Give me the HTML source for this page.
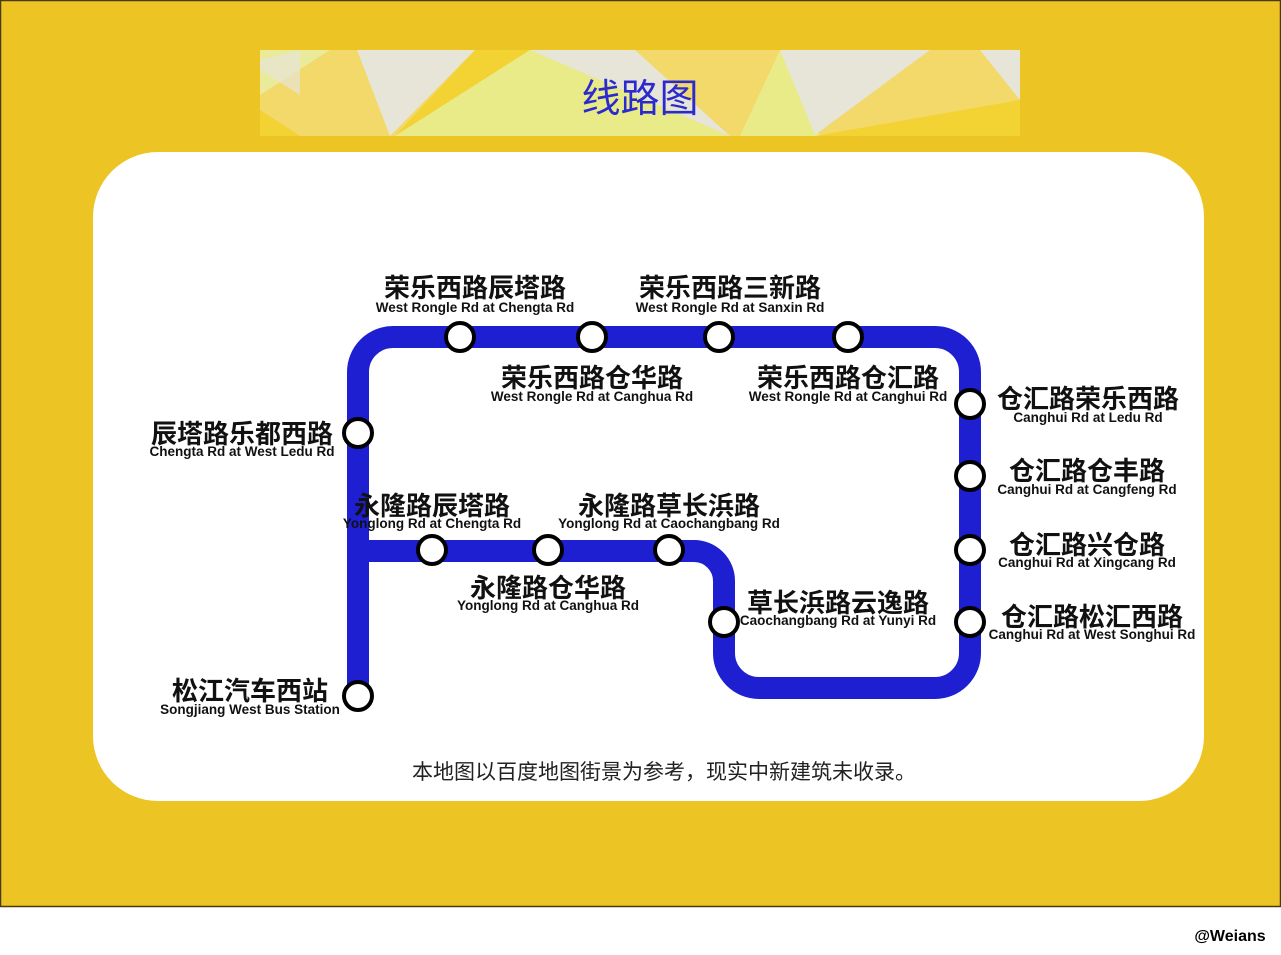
<!DOCTYPE html>
<html><head><meta charset="utf-8"><style>
html,body{margin:0;padding:0;width:1281px;height:955px;background:#fff;overflow:hidden}
svg{display:block}
.cn{font-family:"Liberation Sans","Noto Sans CJK SC",sans-serif;font-weight:bold;font-size:26px;fill:#111;text-anchor:middle}
.en{font-family:"Liberation Sans","Noto Sans CJK SC",sans-serif;font-weight:bold;font-size:13.5px;fill:#111;text-anchor:middle}
</style></head><body>
<svg width="1281" height="955" viewBox="0 0 1281 955" xmlns="http://www.w3.org/2000/svg">
<rect x="0" y="0" width="1281" height="907" fill="#ecc524"/>
<rect x="0.5" y="0.5" width="1280" height="906" fill="none" stroke="#4a3a10" stroke-width="1.5"/>
<rect x="260" y="50" width="760" height="86" fill="#f3d86a"/>
<polygon points="260,50 330,50 260,95" fill="#e9eb9a"/>
<polygon points="260,60 300,50 300,95 260,70" fill="#e6e5d8" opacity="0.7"/>
<polygon points="260,110 300,136 260,136" fill="#f3d233"/>
<polygon points="357,50 475,50 390,136" fill="#e6e5d8"/>
<polygon points="475,50 530,50 395,136" fill="#f3d233"/>
<polygon points="395,136 530,50 730,136" fill="#e9eb88"/>
<polygon points="530,50 635,50 730,136" fill="#e6e5d8"/>
<polygon points="780,50 740,136 820,136" fill="#e9eb88"/>
<polygon points="780,50 930,50 815,135" fill="#e6e5d8"/>
<polygon points="815,136 1020,100 1020,136" fill="#f3d233"/>
<polygon points="980,50 1020,50 1020,100" fill="#e6e5d8"/>
<text x="640" y="112" style="font-family:'Liberation Sans','Noto Sans CJK SC',sans-serif;font-size:39px;fill:#2a2acf;text-anchor:middle">线路图</text>
<rect x="93" y="152" width="1111" height="649" rx="65" fill="#fff"/>
<g fill="none" stroke="#1d1fd0" stroke-width="22" stroke-linejoin="round">
<path d="M358,696 V372 A35,35 0 0 1 393,337 H935 A35,35 0 0 1 970,372 V653 A35,35 0 0 1 935,688 H759 A35,35 0 0 1 724,653 V581 A30,30 0 0 0 694,551 H358"/>
</g>
<g fill="#fff" stroke="#000" stroke-width="4">
<circle cx="460" cy="337" r="14"/><circle cx="592" cy="337" r="14"/><circle cx="719" cy="337" r="14"/><circle cx="848" cy="337" r="14"/>
<circle cx="358" cy="433" r="14"/><circle cx="970" cy="404" r="14"/><circle cx="970" cy="476" r="14"/><circle cx="970" cy="550" r="14"/><circle cx="970" cy="622" r="14"/>
<circle cx="432" cy="550" r="14"/><circle cx="548" cy="550" r="14"/><circle cx="669" cy="550" r="14"/><circle cx="724" cy="622" r="14"/><circle cx="358" cy="696" r="14"/>
</g>
<text class="cn" x="475" y="297">荣乐西路辰塔路</text><text class="en" x="475" y="312">West Rongle Rd at Chengta Rd</text>
<text class="cn" x="730" y="297">荣乐西路三新路</text><text class="en" x="730" y="312">West Rongle Rd at Sanxin Rd</text>
<text class="cn" x="592" y="387">荣乐西路仓华路</text><text class="en" x="592" y="401">West Rongle Rd at Canghua Rd</text>
<text class="cn" x="848" y="387">荣乐西路仓汇路</text><text class="en" x="848" y="401">West Rongle Rd at Canghui Rd</text>
<text class="cn" x="242" y="443">辰塔路乐都西路</text><text class="en" x="242" y="456">Chengta Rd at West Ledu Rd</text>
<text class="cn" x="1088" y="408">仓汇路荣乐西路</text><text class="en" x="1088" y="422">Canghui Rd at Ledu Rd</text>
<text class="cn" x="1087" y="480">仓汇路仓丰路</text><text class="en" x="1087" y="494">Canghui Rd at Cangfeng Rd</text>
<text class="cn" x="1087" y="554">仓汇路兴仓路</text><text class="en" x="1087" y="567">Canghui Rd at Xingcang Rd</text>
<text class="cn" x="1092" y="626">仓汇路松汇西路</text><text class="en" x="1092" y="639">Canghui Rd at West Songhui Rd</text>
<text class="cn" x="432" y="515">永隆路辰塔路</text><text class="en" x="432" y="528">Yonglong Rd at Chengta Rd</text>
<text class="cn" x="669" y="515">永隆路草长浜路</text><text class="en" x="669" y="528">Yonglong Rd at Caochangbang Rd</text>
<text class="cn" x="548" y="597">永隆路仓华路</text><text class="en" x="548" y="610">Yonglong Rd at Canghua Rd</text>
<text class="cn" x="838" y="612">草长浜路云逸路</text><text class="en" x="838" y="625">Caochangbang Rd at Yunyi Rd</text>
<text class="cn" x="250" y="700">松江汽车西站</text><text class="en" x="250" y="714">Songjiang West Bus Station</text>
<text x="664" y="779" style="font-family:'Liberation Sans','Noto Sans CJK SC',sans-serif;font-size:21px;fill:#222;text-anchor:middle">本地图以百度地图街景为参考，现实中新建筑未收录。</text>
<text x="1230" y="941" style="font-family:'Liberation Sans',sans-serif;font-weight:bold;font-size:16px;fill:#000;text-anchor:middle">@Weians</text>
</svg>
</body></html>
